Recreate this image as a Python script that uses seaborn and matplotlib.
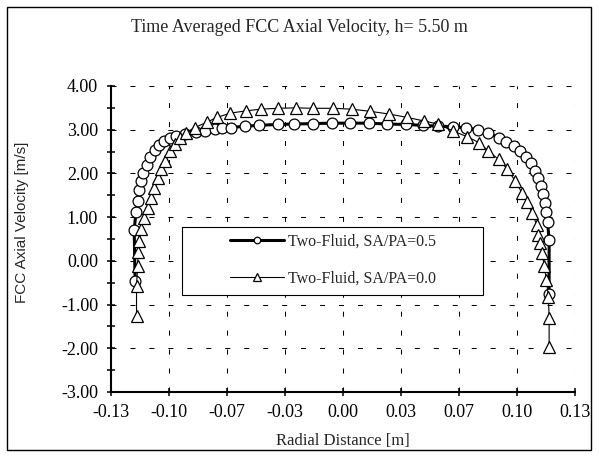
import seaborn as sns
import matplotlib.pyplot as plt
import matplotlib
from matplotlib.patches import Rectangle
from matplotlib.ticker import MultipleLocator
import numpy as np
import pandas as pd

# SA/PA = 0.5 (circles)
circ_x = [-0.1165, -0.1170, -0.1160, -0.1151, -0.1145, -0.1132, -0.1118, -0.1100, -0.1081, -0.1056,
          -0.1032, -0.1005, -0.0971, -0.0933, -0.0885, -0.0821, -0.0773, -0.0720, -0.0679, -0.0626,
          -0.0550, -0.0471, -0.0367, -0.0272, -0.0168, -0.0064, 0.0040, 0.0144, 0.0248, 0.0352,
          0.0446, 0.0531, 0.0617, 0.0692, 0.0758, 0.0815, 0.0872, 0.0915, 0.0957, 0.0994,
          0.1028, 0.1055, 0.1074, 0.1093, 0.1112, 0.1123, 0.1130, 0.1138, 0.1146, 0.1155, 0.1155]
circ_v = [-0.46, 0.71, 1.12, 1.38, 1.61, 1.82, 2.01, 2.20, 2.38, 2.53,
          2.65, 2.75, 2.81, 2.86, 2.91, 2.95, 2.98, 3.01, 3.03, 3.05,
          3.08, 3.10, 3.12, 3.13, 3.14, 3.15, 3.15, 3.15, 3.13, 3.12,
          3.10, 3.08, 3.07, 3.04, 3.00, 2.92, 2.82, 2.72, 2.63, 2.51,
          2.38, 2.23, 2.05, 1.90, 1.72, 1.54, 1.32, 1.11, 0.90, 0.47, -0.75]

# SA/PA = 0.0 (triangles)
tri_x = [-0.1157, -0.1157, -0.1151, -0.1147, -0.1142, -0.1133, -0.1113, -0.1095, -0.1076, -0.1057,
         -0.1038, -0.1019, -0.1000, -0.0972, -0.0943, -0.0915, -0.0882, -0.0830, -0.0764, -0.0707,
         -0.0631, -0.0546, -0.0461, -0.0367, -0.0263, -0.0168, -0.0055, 0.0049, 0.0153, 0.0257,
         0.0361, 0.0455, 0.0531, 0.0617, 0.0696, 0.0764, 0.0815, 0.0872, 0.0919, 0.0966,
         0.1004, 0.1032, 0.1061, 0.1085, 0.1093, 0.1103, 0.1117, 0.1127, 0.1140, 0.1151, 0.1155, 0.1155]
tri_v = [-1.27, -0.58, -0.12, 0.21, 0.46, 0.72, 0.98, 1.21, 1.44, 1.67,
         1.90, 2.09, 2.28, 2.51, 2.68, 2.82, 2.93, 3.05, 3.17, 3.28,
         3.38, 3.43, 3.47, 3.49, 3.50, 3.49, 3.49, 3.47, 3.42, 3.36,
         3.28, 3.20, 3.13, 2.97, 2.84, 2.70, 2.51, 2.32, 2.11, 1.82,
         1.55, 1.34, 1.09, 0.82, 0.59, 0.40, 0.17, -0.12, -0.43, -0.83, -1.30, -1.98]

labels = ['Two-Fluid, SA/PA=0.5', 'Two-Fluid, SA/PA=0.0']
x_ticks = np.linspace(-0.13, 0.13, 9)
x_tick_labels = ['-0.13', '-0.10', '-0.07', '-0.03', '0.00', '0.03', '0.07', '0.10', '0.13']
y_ticks = [-3, -2, -1, 0, 1, 2, 3, 4]

sns.set_style('ticks')
plt.rcParams['font.family'] = ['Liberation Serif', 'DejaVu Serif']

fig = plt.figure(figsize=(5.99, 4.57), dpi=100)
ax = fig.add_axes([111/599, 1-392/457, 464/599, 306/457])

sns.lineplot(x=circ_x, y=circ_v, sort=False, estimator=None, ax=ax, color='black', lw=2.2,
             marker='o', markersize=7.8, markerfacecolor='white', markeredgecolor='black',
             markeredgewidth=0.9, label=labels[0])
sns.lineplot(x=tri_x, y=tri_v, sort=False, estimator=None, ax=ax, color='black', lw=0.8,
             marker='^', markersize=8.8, markerfacecolor='white', markeredgecolor='black',
             markeredgewidth=0.9, label=labels[1])

ax.set_xlim(-0.13, 0.13)
ax.set_ylim(-3, 4)
ax.set_xticks(x_ticks)
ax.set_xticklabels(x_tick_labels)
ax.set_yticks(y_ticks)
ax.set_yticklabels([f'{v:.2f}' for v in y_ticks])
ax.yaxis.set_minor_locator(MultipleLocator(0.5))
ax.tick_params(which='both', direction='inout', length=5.5, width=1.1, color='black',
               labelsize=13, labelcolor='black')
ax.tick_params(axis='y', pad=6.5)
ax.tick_params(axis='x', pad=6)
ax.grid(True, which='major', color='black', lw=0.75, linestyle=(0, (4.8, 13.4)))
ax.set_axisbelow(True)
for side in ['top', 'right']:
    ax.spines[side].set_visible(False)
for side in ['left', 'bottom']:
    ax.spines[side].set_linewidth(1.5)
    ax.spines[side].set_color('black')
ax.set_xlabel('')
ax.set_ylabel('')

# legend box (fixed size like the original) and its entries
ax.add_patch(Rectangle((0.153, 0.317), 0.649, 0.222, transform=ax.transAxes,
                       facecolor='white', edgecolor='black', lw=0.8, zorder=4))
leg = ax.legend(loc='center left', bbox_to_anchor=(0.2565, 0.431), frameon=False,
                borderpad=0, borderaxespad=0, fontsize=11.5, handlelength=3.4,
                handletextpad=0.2, labelspacing=1.35, markerscale=0.6)
leg.set_zorder(5)

fig.text(0.5, 1-32/457, 'Time Averaged FCC Axial Velocity, h= 5.50 m', ha='center',
         va='baseline', fontsize=13)
fig.text(343/599, 1-445/457, 'Radial Distance [m]', ha='center', va='baseline', fontsize=12)
fig.text(22/599, 1-222/457, 'FCC Axial Velocity [m/s]', ha='center', va='center',
         rotation=90, fontsize=11, family=['Liberation Sans', 'DejaVu Sans'])

fig.patches.append(Rectangle((7/599, 7/457), 584/599, 443/457, transform=fig.transFigure,
                             fill=False, edgecolor='black', lw=1))

plt.savefig('out.png', dpi=100)
